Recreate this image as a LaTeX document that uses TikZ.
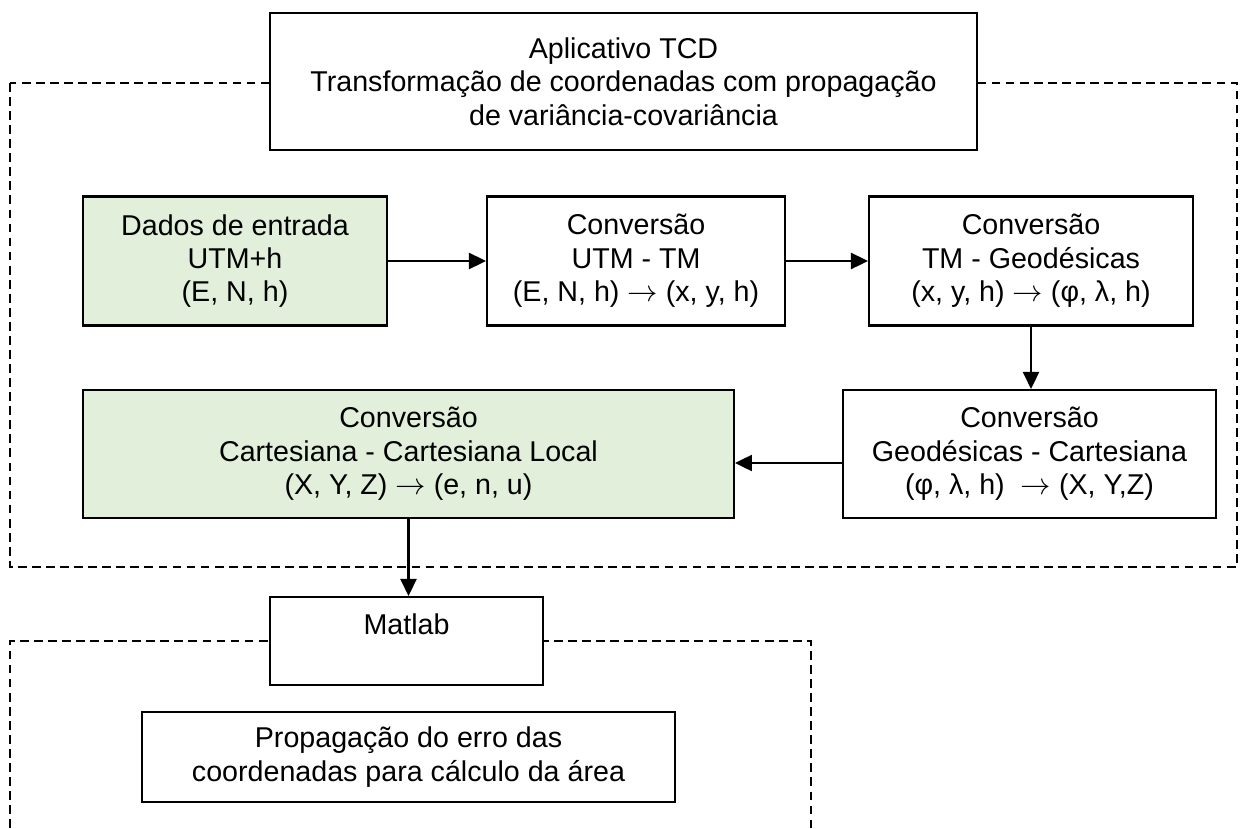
\documentclass[tikz,border=0pt]{standalone}
\usepackage{fontspec}
\setmainfont{Liberation Sans}
\usetikzlibrary{arrows.meta}
\definecolor{lightgreen}{HTML}{E2EFDA}

\begin{document}
\begin{tikzpicture}[x=0.02cm, y=-0.02cm,
  box/.style = {draw, line width=1.2pt, fill=white, align=center, inner sep=2pt, font=\fontsize{16.3}{19}\selectfont},
  frame/.style = {line width=0.9pt, dash pattern=on 5pt off 3pt},
  arr/.style = {line width=1.4pt, -{Triangle[length=0.34cm, width=0.32cm]}}]

\useasboundingbox (0,0) rectangle (1243,828);

% Dashed frames
\draw[frame] (10,83) rectangle (1237,567);
\draw[frame] (10,828) -- (10,641) -- (811,641) -- (811,828);

% Boxes
\node[box, minimum width=14.14cm, minimum height=2.74cm] (tcd) at (623.5,81.5) {Aplicativo TCD\\Transformação de coordenadas com propagação\\de variância-covariância};
\node[box, fill=lightgreen, minimum width=6.08cm, minimum height=2.58cm] (dados) at (235,261) {Dados de entrada\\UTM+h\\(E, N, h)};
\node[box, minimum width=5.96cm, minimum height=2.58cm] (utmtm) at (636,261) {Conversão\\UTM - TM\\(E, N, h) $\rightarrow$ (x, y, h)};
\node[box, minimum width=6.48cm, minimum height=2.58cm] (tmgeo) at (1031,261) {Conversão\\TM - Geodésicas\\(x, y, h) $\rightarrow$ (φ, λ, h)};
\node[box, minimum width=7.46cm, minimum height=2.56cm] (geocart) at (1029.5,454) {Conversão\\Geodésicas - Cartesiana\\(φ, λ, h)\ \ $\rightarrow$ (X, Y,Z)};
\node[box, fill=lightgreen, minimum width=13.02cm, minimum height=2.56cm] (cartloc) at (408.5,454) {Conversão\\Cartesiana - Cartesiana Local\\(X, Y, Z) $\rightarrow$ (e, n, u)};
\node[box, minimum width=5.46cm, minimum height=1.76cm] (matlab) at (406.5,641) {Matlab\\\mbox{}};
\node[box, minimum width=10.66cm, minimum height=1.8cm] (prop) at (408.5,757) {Propagação do erro das\\coordenadas para cálculo da área};

% Arrows
\draw[arr] (dados.east) -- (utmtm.west);
\draw[arr] (utmtm.east) -- (tmgeo.west);
\draw[arr] (tmgeo.south) -- (tmgeo.south |- geocart.north);
\draw[arr] ([yshift=-0.18cm]geocart.west) -- ([yshift=-0.18cm]cartloc.east);
\draw[arr] (cartloc.south) -- (cartloc.south |- matlab.north);

\end{tikzpicture}
\end{document}
